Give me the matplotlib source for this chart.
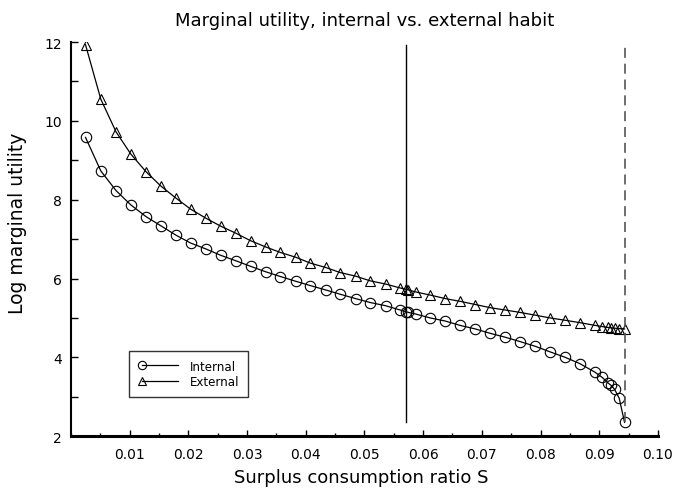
import matplotlib
matplotlib.use("Agg")
import matplotlib.pyplot as plt
from matplotlib.lines import Line2D
from matplotlib.legend_handler import HandlerLine2D
from matplotlib.ticker import MultipleLocator

# Surplus consumption ratio grid (shared by both series)
surplus = [0.0025, 0.0051, 0.0077, 0.0102, 0.0128, 0.0153, 0.0179, 0.0204,
           0.0230, 0.0255, 0.0281, 0.0306, 0.0332, 0.0357, 0.0383, 0.0408,
           0.0434, 0.0459, 0.0485, 0.0510, 0.0536, 0.0561, 0.0570, 0.0575,
           0.0587, 0.0612, 0.0638, 0.0663, 0.0689, 0.0714, 0.0740, 0.0765,
           0.0791, 0.0816, 0.0842, 0.0867, 0.0893, 0.0905, 0.0914, 0.0920,
           0.0926, 0.0934, 0.0943]

# Log marginal utility, internal habit
internal = [9.58, 8.73, 8.23, 7.87, 7.57, 7.34, 7.10, 6.90,
            6.75, 6.59, 6.45, 6.31, 6.17, 6.05, 5.93, 5.82,
            5.71, 5.60, 5.49, 5.39, 5.31, 5.20, 5.16, 5.14,
            5.10, 5.00, 4.92, 4.81, 4.72, 4.61, 4.51, 4.40,
            4.28, 4.14, 4.00, 3.84, 3.62, 3.49, 3.36, 3.29,
            3.19, 2.96, 2.35]

# Log marginal utility, external habit
external = [11.93, 10.55, 9.72, 9.16, 8.71, 8.35, 8.04, 7.76,
            7.53, 7.33, 7.15, 6.96, 6.80, 6.66, 6.54, 6.39,
            6.28, 6.15, 6.06, 5.94, 5.86, 5.76, 5.73, 5.71,
            5.66, 5.58, 5.49, 5.42, 5.34, 5.26, 5.20, 5.14,
            5.07, 5.00, 4.94, 4.88, 4.81, 4.78, 4.76, 4.75,
            4.74, 4.73, 4.72]

s_bar = 0.057    # steady-state surplus ratio
s_max = 0.0943   # upper bound of the surplus ratio

x_ticks = [0.01, 0.02, 0.03, 0.04, 0.05, 0.06, 0.07, 0.08, 0.09, 0.10]
x_tick_labels = ["0.01", "0.02", "0.03", "0.04", "0.05",
                 "0.06", "0.07", "0.08", "0.09", "0.10"]
y_ticks = [2, 4, 6, 8, 10, 12]


class MarkerAtStart(HandlerLine2D):
    """Legend line with its marker drawn only at the left end."""
    def create_artists(self, *args, **kwargs):
        artists = super().create_artists(*args, **kwargs)
        for a in artists:
            a.set_markevery([0])
        return artists


plt.rcParams["font.family"] = ["DejaVu Sans"]

fig = plt.figure(figsize=(6.78, 4.89), dpi=100)
ax = fig.add_axes([0.1045, 0.106, 0.866, 0.806])

mk = dict(color="black", lw=0.9, markersize=7.5, fillstyle="none",
          markeredgewidth=0.8)
ax.plot(surplus, internal, marker="o", **mk)
ax.plot(surplus, external, marker="^", **mk)

lo = min(min(internal), min(external))
hi = max(max(internal), max(external))
ax.plot([s_bar, s_bar], [lo, hi], color="black", lw=1.0)
ax.plot([s_max, s_max], [lo, hi], color="#555555", lw=1.2,
        linestyle=(0, (6, 3.5)))

ax.set_xlim(0, 0.10)
ax.set_ylim(2, 12)
ax.set_xticks(x_ticks)
ax.set_xticklabels(x_tick_labels)
ax.set_yticks(y_ticks)
ax.xaxis.set_minor_locator(MultipleLocator(0.005))
ax.yaxis.set_minor_locator(MultipleLocator(1))
ax.tick_params(axis="x", which="major", direction="in", length=4, width=1,
               labelsize=10, pad=7.5)
ax.tick_params(axis="x", which="minor", direction="in", length=2.5, width=1)
ax.tick_params(axis="y", which="both", direction="in", length=5, width=1,
               labelsize=10, pad=6.5)

for side in ("top", "right"):
    ax.spines[side].set_visible(False)
ax.spines["bottom"].set_linewidth(2.2)
ax.spines["left"].set_linewidth(1.5)

ax.set_xlabel("Surplus consumption ratio S", fontsize=13)
ax.xaxis.set_label_coords(0.495, -0.081)
ax.set_ylabel("Log marginal utility", fontsize=13.5)
ax.yaxis.set_label_coords(-0.0744, 0.542)
ax.set_title("Marginal utility, internal vs. external habit",
             fontsize=13, pad=12)

handles = [
    Line2D([], [], marker="o", color="black", lw=0.9, markersize=6,
           fillstyle="none", markeredgewidth=0.8),
    Line2D([], [], marker="^", color="black", lw=0.9, markersize=6,
           fillstyle="none", markeredgewidth=0.8),
]
leg = ax.legend(handles, ["Internal", "External"], numpoints=2,
                handler_map={Line2D: MarkerAtStart()},
                loc="upper left", bbox_to_anchor=(0.0998, 0.2165),
                fontsize=8.6, frameon=True, fancybox=False, edgecolor="black",
                handlelength=3.6, borderpad=0.74, labelspacing=0.2,
                handletextpad=0.7, borderaxespad=0)
leg.get_frame().set_linewidth(1.0)

fig.savefig("out.png", dpi=100)
